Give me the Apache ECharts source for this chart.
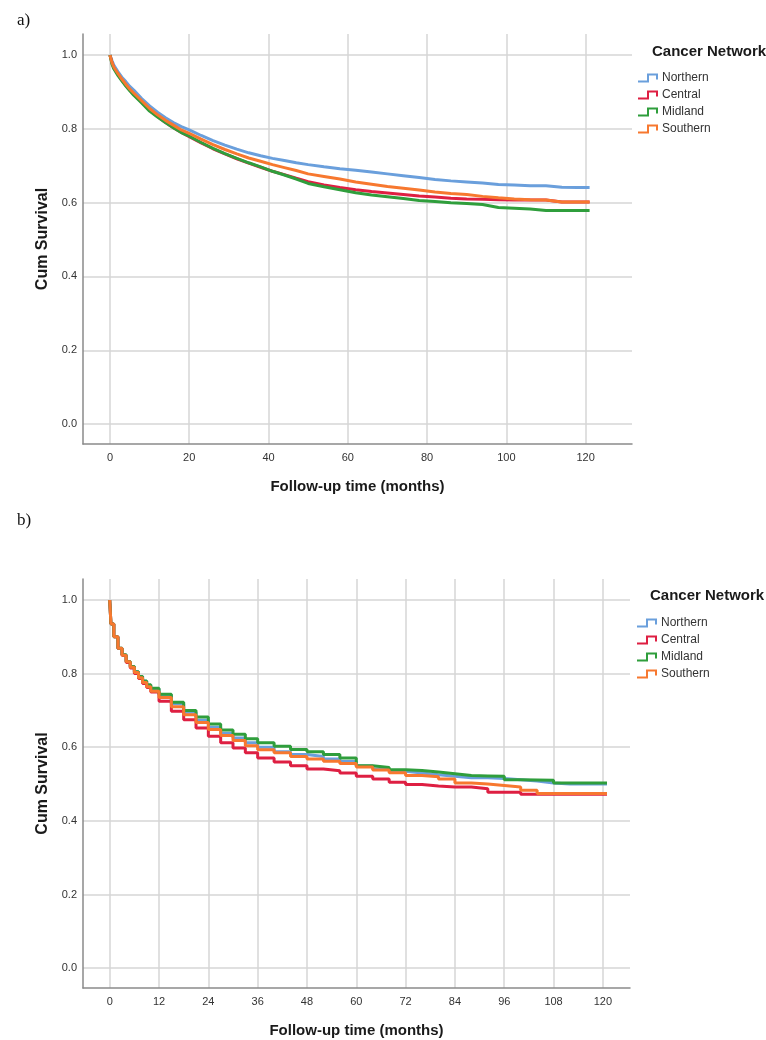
<!DOCTYPE html>
<html>
<head>
<meta charset="utf-8">
<title>Cum Survival by Cancer Network</title>
<script src="https://cdn.jsdelivr.net/npm/echarts@6/dist/echarts.min.js"></script>
<style>
    html, body { margin: 0; padding: 0; background: #fff; }
    #survival_chart { width: 766px; height: 1040px; }
</style>
</head>
<body>
<div id="survival_chart"></div>
<script>

// Data
// ------------------------------

var networks = ['Northern', 'Central', 'Midland', 'Southern'];

// a) follow-up months and survival values
var monthsA = [0, 0.5, 1, 2, 3, 4, 5, 6, 8, 10, 12, 14, 16, 18, 20, 23, 26, 29, 32, 35, 38, 41, 44, 47, 50, 54, 58, 62, 66, 70, 74, 78, 82, 86, 90, 94, 98, 102, 106, 110, 114, 118, 121];
var northernA = [1.0, 0.985, 0.972, 0.955, 0.94, 0.928, 0.915, 0.905, 0.882, 0.862, 0.845, 0.83, 0.817, 0.806, 0.797, 0.782, 0.768, 0.756, 0.745, 0.735, 0.727, 0.72, 0.714, 0.708, 0.703, 0.697, 0.692, 0.688, 0.683, 0.678, 0.673, 0.668, 0.663, 0.659, 0.656, 0.653, 0.649, 0.648, 0.646, 0.646, 0.642, 0.641, 0.641];
var centralA = [1.0, 0.98, 0.965, 0.948, 0.932, 0.918, 0.905, 0.893, 0.872, 0.85, 0.833, 0.817, 0.803, 0.79, 0.779, 0.762, 0.746, 0.732, 0.719, 0.707, 0.696, 0.685, 0.676, 0.666, 0.657, 0.648, 0.641, 0.635, 0.63, 0.626, 0.622, 0.618, 0.615, 0.612, 0.61, 0.609, 0.608, 0.607, 0.607, 0.607, 0.602, 0.602, 0.602];
var midlandA = [1.0, 0.975, 0.962, 0.945, 0.93, 0.916, 0.903, 0.891, 0.87, 0.848, 0.832, 0.817, 0.803, 0.79, 0.78, 0.763, 0.747, 0.733, 0.72, 0.708, 0.697, 0.685, 0.675, 0.664, 0.652, 0.643, 0.635, 0.627, 0.621, 0.616, 0.611, 0.606, 0.603, 0.6, 0.598, 0.595, 0.587, 0.585, 0.583, 0.579, 0.579, 0.579, 0.579];
var southernA = [1.0, 0.98, 0.967, 0.95, 0.935, 0.921, 0.908, 0.897, 0.876, 0.855, 0.838, 0.823, 0.81, 0.797, 0.788, 0.772, 0.757, 0.744, 0.732, 0.721, 0.712, 0.703, 0.695, 0.687, 0.678, 0.671, 0.664, 0.656, 0.65, 0.644, 0.639, 0.634, 0.629, 0.625, 0.622, 0.617, 0.613, 0.61, 0.608, 0.607, 0.602, 0.602, 0.602];

// b) follow-up months and survival values
var monthsB = [0, 0.3, 1, 2, 3, 4, 5, 6, 7, 8, 9, 10, 12, 15, 18, 21, 24, 27, 30, 33, 36, 40, 44, 48, 52, 56, 60, 64, 68, 72, 76, 80, 84, 88, 92, 96, 100, 104, 108, 112, 116, 121];
var northernB = [1.0, 0.935, 0.90, 0.869, 0.851, 0.833, 0.819, 0.805, 0.792, 0.779, 0.768, 0.758, 0.742, 0.718, 0.695, 0.673, 0.654, 0.638, 0.625, 0.612, 0.600, 0.588, 0.58, 0.575, 0.568, 0.561, 0.549, 0.541, 0.535, 0.53, 0.525, 0.521, 0.517, 0.517, 0.515, 0.512, 0.508, 0.503, 0.5, 0.5, 0.5, 0.5];
var centralB = [1.0, 0.935, 0.90, 0.868, 0.849, 0.83, 0.815, 0.80, 0.787, 0.773, 0.762, 0.75, 0.725, 0.698, 0.675, 0.652, 0.63, 0.612, 0.598, 0.585, 0.571, 0.56, 0.55, 0.541, 0.536, 0.53, 0.521, 0.514, 0.505, 0.499, 0.495, 0.492, 0.492, 0.487, 0.478, 0.478, 0.472, 0.472, 0.472, 0.472, 0.472, 0.472];
var midlandB = [1.0, 0.935, 0.90, 0.869, 0.851, 0.833, 0.819, 0.805, 0.792, 0.78, 0.77, 0.76, 0.744, 0.722, 0.70, 0.682, 0.663, 0.647, 0.635, 0.623, 0.612, 0.603, 0.594, 0.588, 0.58, 0.571, 0.55, 0.545, 0.539, 0.537, 0.533, 0.528, 0.523, 0.522, 0.521, 0.512, 0.511, 0.51, 0.503, 0.503, 0.503, 0.503];
var southernB = [1.0, 0.935, 0.90, 0.869, 0.85, 0.832, 0.817, 0.803, 0.789, 0.776, 0.764, 0.752, 0.735, 0.71, 0.688, 0.667, 0.648, 0.632, 0.618, 0.604, 0.593, 0.585, 0.575, 0.568, 0.562, 0.556, 0.546, 0.538, 0.531, 0.523, 0.52, 0.514, 0.503, 0.5, 0.496, 0.492, 0.483, 0.474, 0.474, 0.474, 0.474, 0.474];

// Axis tick labels
var xTicksA = [0, 20, 40, 60, 80, 100, 120];
var xTicksB = [0, 12, 24, 36, 48, 60, 72, 84, 96, 108, 120];
var yTicks = [0, 0.2, 0.4, 0.6, 0.8, 1.0];


// Setup module
// ------------------------------

var SurvivalCurves = function() {

    var colors = ['#6a9fdc', '#de1f42', '#2f9e3c', '#f7782f'];
    var narrowFont = '"Liberation Sans Narrow", "Arial Narrow", "Liberation Sans", Arial, sans-serif';
    var boldFont = '"Liberation Sans", Arial, sans-serif';

    // step-shaped legend icon
    var stepIcon = 'path://M0,7 L9,7 L9,0 L20,0 L20,6 L18,6 L18,2 L11,2 L11,9 L0,9 Z';

    var toPairs = function(months, values) {
        return months.map(function(m, i) {
            return [m, values[i]];
        });
    };

    var makeXAxis = function(gridIndex, min, max, ticks) {
        return {
            type: 'value',
            gridIndex: gridIndex,
            min: min,
            max: max,
            name: 'Follow-up time (months)',
            nameLocation: 'middle',
            nameGap: 35,
            nameTextStyle: { fontFamily: boldFont, fontSize: 15, fontWeight: 'bold', color: '#1a1a1a' },
            axisLine: { show: true, onZero: false, lineStyle: { color: '#8a8a8a', width: 1.5 } },
            axisTick: { show: false, customValues: ticks },
            axisLabel: { customValues: ticks, margin: 8, color: '#333', fontSize: 11, fontFamily: narrowFont },
            splitLine: { show: true, lineStyle: { color: '#d6d6d6', width: 1.5 } }
        };
    };

    var makeYAxis = function(gridIndex, min, max) {
        return {
            type: 'value',
            gridIndex: gridIndex,
            min: min,
            max: max,
            name: 'Cum Survival',
            nameLocation: 'middle',
            nameGap: 32,
            nameTextStyle: { fontFamily: boldFont, fontSize: 16, fontWeight: 'bold', color: '#1a1a1a' },
            axisLine: { show: true, onZero: false, lineStyle: { color: '#8a8a8a', width: 1.5 } },
            axisTick: { show: false, customValues: yTicks },
            axisLabel: {
                customValues: yTicks, margin: 6, color: '#333', fontSize: 11, fontFamily: narrowFont,
                formatter: function(v) { return v.toFixed(1); }
            },
            splitLine: { show: true, lineStyle: { color: '#d6d6d6', width: 1.5 } }
        };
    };

    var makeLegend = function(left, top) {
        return {
            orient: 'vertical',
            left: left,
            top: top,
            itemWidth: 24,
            itemHeight: 9,
            itemGap: 5,
            itemStyle: { borderWidth: 0 },
            icon: stepIcon,
            data: networks,
            textStyle: { fontSize: 12, color: '#333', fontFamily: narrowFont, padding: [0, 0, 0, -3] }
        };
    };

    // panel a) reads nearly smooth, panel b) keeps its visible monthly steps
    var makeSeries = function(index, name, months, values, color, step) {
        return {
            name: name,
            type: 'line',
            step: step,
            xAxisIndex: index,
            yAxisIndex: index,
            showSymbol: false,
            silent: true,
            color: color,
            lineStyle: { width: 3, color: color },
            data: toPairs(months, values)
        };
    };

    var _survivalChart = function() {
        if (typeof echarts == 'undefined') {
            console.warn('Warning - echarts.min.js is not loaded.');
            return;
        }

        var survival_element = document.getElementById('survival_chart');
        if (!survival_element) return;

        var survival_chart = echarts.init(survival_element);

        var seriesA = [northernA, centralA, midlandA, southernA];
        var seriesB = [northernB, centralB, midlandB, southernB];
        var series = [];
        networks.forEach(function(name, i) {
            series.push(makeSeries(0, name, monthsA, seriesA[i], colors[i], false));
        });
        networks.forEach(function(name, i) {
            series.push(makeSeries(1, name, monthsB, seriesB[i], colors[i], 'end'));
        });

        survival_chart.setOption({
            animation: false,
            color: colors,

            title: [
                { text: 'a)', left: 12, top: 7, textStyle: { fontFamily: '"Liberation Serif", serif', fontSize: 17, fontWeight: 'normal', color: '#111' } },
                { text: 'b)', left: 12, top: 507, textStyle: { fontFamily: '"Liberation Serif", serif', fontSize: 17, fontWeight: 'normal', color: '#111' } },
                { text: 'Cancer Network', left: 647, top: 39, textStyle: { fontFamily: boldFont, fontSize: 15, fontWeight: 'bold', color: '#1a1a1a' } },
                { text: 'Cancer Network', left: 645, top: 583, textStyle: { fontFamily: boldFont, fontSize: 15, fontWeight: 'bold', color: '#1a1a1a' } }
            ],

            legend: [ makeLegend(633, 67), makeLegend(632, 612) ],

            grid: [
                { left: 83, top: 34, width: 549, height: 410 },
                { left: 83, top: 579, width: 547, height: 409 }
            ],

            xAxis: [
                makeXAxis(0, -6.8, 131.7, xTicksA),
                makeXAxis(1, -6.5, 126.6, xTicksB)
            ],
            yAxis: [
                makeYAxis(0, -0.054, 1.057),
                makeYAxis(1, -0.054, 1.057)
            ],

            series: series
        });
    };

    return {
        init: function() {
            _survivalChart();
        }
    }
}();


// Initialize module
// ------------------------------

document.addEventListener('DOMContentLoaded', function() {
    SurvivalCurves.init();
});
</script>
</body>
</html>
